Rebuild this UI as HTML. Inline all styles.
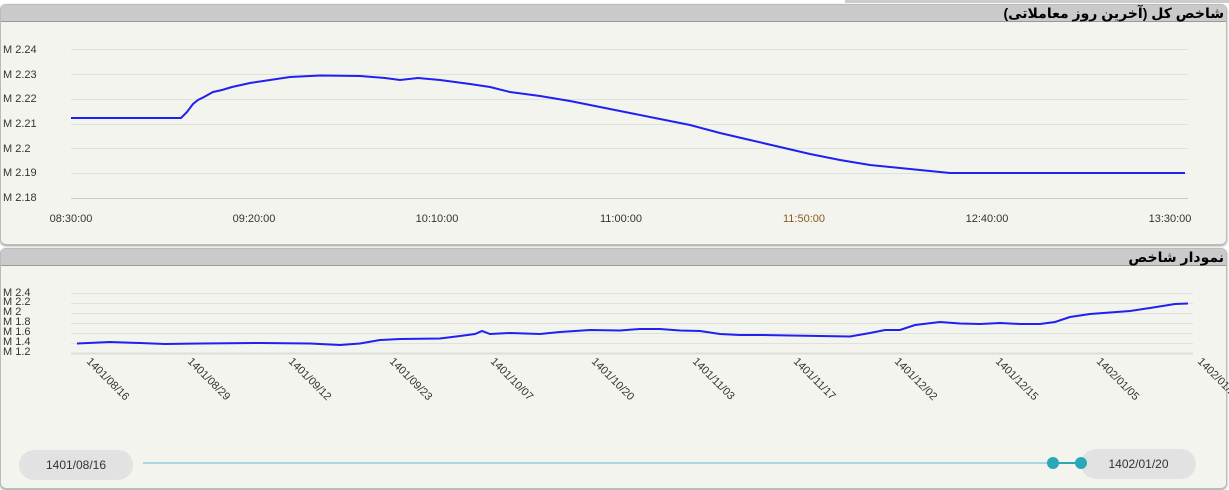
<!DOCTYPE html>
<html><head><meta charset="utf-8"><style>
body{margin:0;width:1229px;height:490px;background:#fff;font-family:"Liberation Sans",sans-serif;position:relative;overflow:hidden}
.p{position:absolute;left:0;width:1225px;background:#f4f4ef;border:1px solid #bbb;border-radius:6px;box-shadow:0 1px 2px #999;overflow:hidden}
.h{height:16px;background:#cacaca;border-bottom:1px solid #999;font:bold 14px "Liberation Sans","DejaVu Sans",sans-serif;text-align:right;padding-right:2px;line-height:17px;direction:rtl}
svg{position:absolute;left:0;top:0}
text{font-family:"Liberation Sans",sans-serif;font-size:11px;fill:#333}
.pill{position:absolute;height:30px;border-radius:15px;background:#e2e2e2;font-size:12px;color:#333;text-align:center;line-height:30px}
</style></head><body>
<div style="position:absolute;left:845px;top:0;width:384px;height:3px;background:#ccc"></div>
<div class="p" style="top:4px;height:239px"><div class="h">شاخص کل (آخرین روز معاملاتی)</div></div>
<div class="p" style="top:248px;height:239px"><div class="h">نمودار شاخص</div></div>
<svg width="1229" height="490">
<g stroke="#e0e0dc" stroke-width="1">
<line x1="71" x2="1188" y1="49.5" y2="49.5"/><line x1="71" x2="1188" y1="74.5" y2="74.5"/><line x1="71" x2="1188" y1="99.5" y2="99.5"/><line x1="71" x2="1188" y1="124.5" y2="124.5"/><line x1="71" x2="1188" y1="148.5" y2="148.5"/><line x1="71" x2="1188" y1="173.5" y2="173.5"/></g>
<line x1="71" x2="1188" y1="198.5" y2="198.5" stroke="#ccc"/>
<g text-anchor="start"><text x="3" y="53">M 2.24</text><text x="3" y="78">M 2.23</text><text x="3" y="102">M 2.22</text><text x="3" y="127">M 2.21</text><text x="3" y="152">M 2.2</text><text x="3" y="176">M 2.19</text><text x="3" y="201">M 2.18</text></g>
<g text-anchor="middle"><text x="71" y="222">08:30:00</text><text x="254" y="222">09:20:00</text><text x="437" y="222">10:10:00</text><text x="621" y="222">11:00:00</text><text x="804" y="222" style="fill:#8a5a20">11:50:00</text><text x="987" y="222">12:40:00</text><text x="1170" y="222">13:30:00</text></g>
<polyline fill="none" stroke="#2020f0" stroke-width="2" points="71,118 181,118 187,112 193,104 198,100 204,97 213,92 222,90 232,87 250,83 270,80 290,77 320,75.5 360,76 385,78 400,80 418,78 440,80 470,84 490,87 510,92 540,96 570,101 600,107 630,113 660,119 690,125 720,133 750,140 780,147 810,154 840,160 870,165 900,168 930,171 950,173 1185,173"/>
<g stroke="#e0e0dc"><line x1="71" x2="1193" y1="293.5" y2="293.5"/><line x1="71" x2="1193" y1="303.5" y2="303.5"/><line x1="71" x2="1193" y1="313.5" y2="313.5"/><line x1="71" x2="1193" y1="323.5" y2="323.5"/><line x1="71" x2="1193" y1="333.5" y2="333.5"/><line x1="71" x2="1193" y1="343.5" y2="343.5"/></g>
<line x1="71" x2="1193" y1="353.5" y2="353.5" stroke="#ddd" stroke-width="2"/>
<g style="font-size:11.5px"><text x="3" y="296">M 2.4</text><text x="3" y="305">M 2.2</text><text x="3" y="315">M 2</text><text x="3" y="325">M 1.8</text><text x="3" y="335">M 1.6</text><text x="3" y="345">M 1.4</text><text x="3" y="355">M 1.2</text></g>
<polyline fill="none" stroke="#2020f0" stroke-width="2" points="77,343.5 110,342 140,343 165,344 200,343.5 260,343 310,343.5 340,345 360,343.5 380,340 400,339 440,338.5 460,336 475,334 482,331 490,334 510,333 540,334 560,332 590,330 620,330.5 640,329 660,329 680,330.5 700,331 720,334 740,335 760,335 790,335.5 820,336 850,336.5 870,333 885,330 900,330 915,325 940,322 960,323.5 980,324 1000,323 1020,324 1040,324 1055,322 1070,317 1090,314 1130,311 1150,308 1175,304 1188,303.5"/>
<g text-anchor="start" style="font-size:11.5px">
<text transform="translate(86,362) rotate(45)">1401/08/16</text><text transform="translate(187,362) rotate(45)">1401/08/29</text><text transform="translate(288,362) rotate(45)">1401/09/12</text><text transform="translate(389,362) rotate(45)">1401/09/23</text><text transform="translate(490,362) rotate(45)">1401/10/07</text><text transform="translate(591,362) rotate(45)">1401/10/20</text><text transform="translate(692,362) rotate(45)">1401/11/03</text><text transform="translate(793,362) rotate(45)">1401/11/17</text><text transform="translate(894,362) rotate(45)">1401/12/02</text><text transform="translate(995,362) rotate(45)">1401/12/15</text><text transform="translate(1096,362) rotate(45)">1402/01/05</text><text transform="translate(1197,362) rotate(45)">1402/01/20</text></g>
<line x1="143" x2="1053" y1="463" y2="463" stroke="#a8d8dc" stroke-width="2"/>
<line x1="1053" x2="1081" y1="463" y2="463" stroke="#2aa8b8" stroke-width="2"/>
</svg>
<div class="pill" style="left:19px;top:450px;width:114px">1401/08/16</div>
<div class="pill" style="left:1081px;top:449px;width:115px">1402/01/20</div>
<svg width="1229" height="490" style="pointer-events:none"><circle cx="1053" cy="463" r="6" fill="#2aa8b8"/><circle cx="1081" cy="463" r="6" fill="#2aa8b8"/></svg>
</body></html>
